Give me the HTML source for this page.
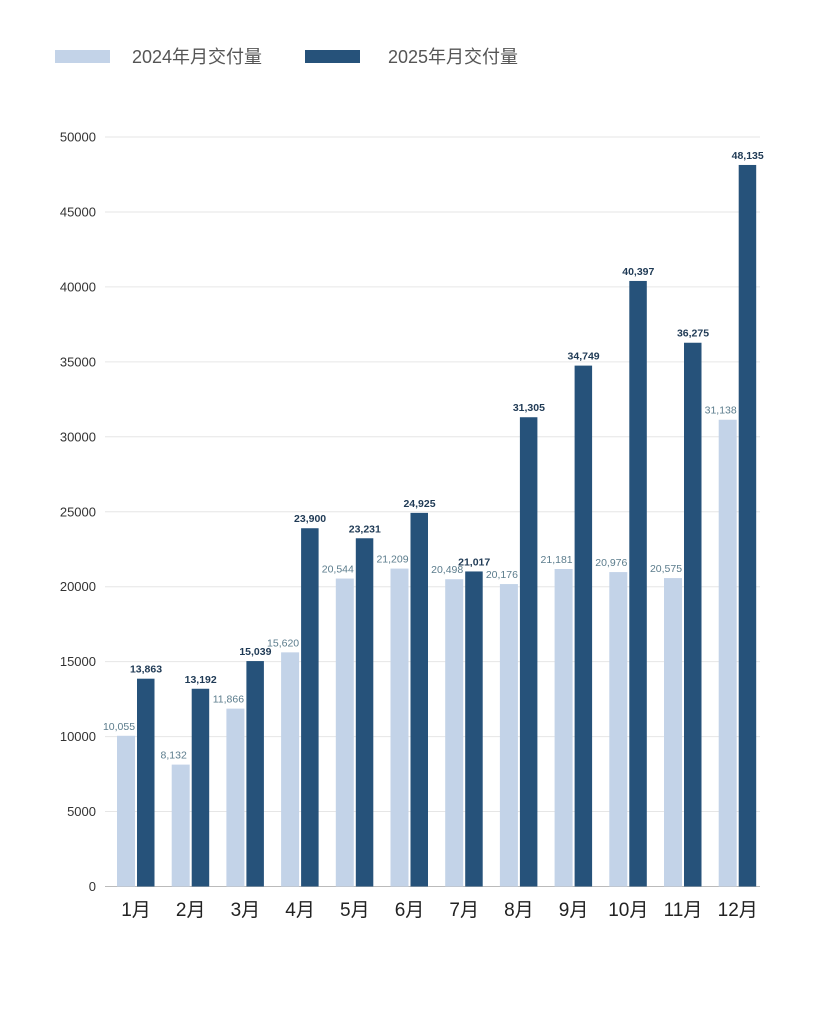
<!DOCTYPE html>
<html><head><meta charset="utf-8"><style>body{margin:0;background:#fff}</style></head><body>
<svg width="820" height="1023" xmlns="http://www.w3.org/2000/svg" font-family="Liberation Sans, Noto Sans CJK SC, sans-serif">
<rect width="820" height="1023" fill="#fff"/>
<rect x="55" y="50" width="55" height="13" fill="#c3d3e8"/>
<text x="132" y="63" font-size="18" fill="#555">2024年月交付量</text>
<rect x="305" y="50" width="55" height="13" fill="#26527a"/>
<text x="388" y="63" font-size="18" fill="#555">2025年月交付量</text>
<g id="grid"></g>
<script>
var s=document.querySelector('svg'),ns='http://www.w3.org/2000/svg',g=document.getElementById('grid');
function el(t,a,txt){var e=document.createElementNS(ns,t);for(var k in a)e.setAttribute(k,a[k]);if(txt!==undefined)e.textContent=txt;g.appendChild(e);return e;}
var y0=886.5,k=749.5/50000;
for(var v=0;v<=50000;v+=5000){var y=y0-v*k;
el('line',{x1:105,x2:760,y1:y,y2:y,stroke:v==0?'#bbb':'#e6e6e6','stroke-width':1});
el('text',{x:96,y:y+4.5,'font-size':13,fill:'#333','text-anchor':'end'},String(v));}
var a=[10055,8132,11866,15620,20544,21209,20498,20176,21181,20976,20575,31138];
var b=[13863,13192,15039,23900,23231,24925,21017,31305,34749,40397,36275,48135];
function f(n){return n.toString().replace(/\B(?=(\d{3})+(?!\d))/g,',');}
for(var i=0;i<12;i++){var x=117+i*54.7;var ya=y0-a[i]*k;
el('rect',{x:x,y:ya,width:18,height:y0-ya,fill:'#c3d3e8'});
el('text',{x:x+2,y:ya-6,'font-size':10.5,fill:'#5b7c8c','text-anchor':'middle'},f(a[i]));}
for(var i=0;i<12;i++){var x=117+i*54.7;var yb=y0-b[i]*k;
el('rect',{x:x+20,y:yb,width:17.5,height:y0-yb,fill:'#26527a'});
el('text',{x:x+29,y:yb-6,'font-size':10.5,'font-weight':'bold',fill:'#1f3a55','text-anchor':'middle'},f(b[i]));
el('text',{x:x+19,y:916,'font-size':19,fill:'#222','text-anchor':'middle'},(i+1)+'月');}
</script>
</svg>
</body></html>
